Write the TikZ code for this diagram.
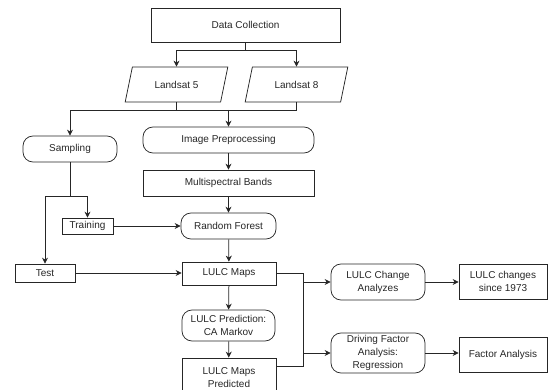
\documentclass[tikz,border=0pt]{standalone}
\usepackage{fontspec}
\setmainfont{Liberation Sans}
\usetikzlibrary{shapes, shapes.geometric, arrows.meta}

\begin{document}
\begin{tikzpicture}[x=1pt, y=-1pt,
  box/.style={draw=black!85, line width=0.75pt, align=center, inner sep=0pt, text=black!85, font=\fontsize{10}{13}\selectfont},
  rbox/.style={box, rounded corners=10pt},
  para/.style={box, trapezium, trapezium left angle=64, trapezium right angle=116, trapezium stretches=true},
  arr/.style={-{Stealth[length=6pt, width=6pt]}, draw=black!85, line width=0.75pt},
  ln/.style={draw=black!85, line width=0.75pt}]
\clip (0,0) rectangle (549,390);

\node[box, minimum width=189pt, minimum height=34pt] (DC) at (245.5, 25) {Data Collection};
\node[para, minimum width=103pt, minimum height=35pt] (L5) at (176.5, 84.5) {Landsat 5};
\node[para, minimum width=103pt, minimum height=35pt] (L8) at (296.5, 84.5) {Landsat 8};

\node[rbox, minimum width=94pt, minimum height=26pt] (Samp) at (70, 149) {Sampling};
\node[rbox, minimum width=171pt, minimum height=26pt] (Pre) at (228.5, 140) {Image Preprocessing};
\node[box, minimum width=171pt, minimum height=26pt] (Multi) at (228.5, 183) {Multispectral Bands};
\node[rbox, minimum width=95pt, minimum height=26pt] (RF) at (228.5, 226) {Random Forest};
\node[box, minimum width=51pt, minimum height=16pt] (Train) at (87.5, 226) {Training};
\node[box, minimum width=60pt, minimum height=18pt] (Test) at (45, 273) {Test};

\node[box, minimum width=94pt, minimum height=23pt] (Maps) at (229, 273.5) {LULC Maps};
\node[rbox, minimum width=93pt, minimum height=31pt] (Pred) at (228.5, 325.5) {LULC Prediction:\\CA Markov};
\node[box, minimum width=94pt, minimum height=40pt] (MapsP) at (229, 378) {LULC Maps\\Predicted};

\node[rbox, minimum width=94pt, minimum height=36pt] (Chg) at (378, 282) {LULC Change\\Analyzes};
\node[box, minimum width=88pt, minimum height=35pt] (Since) at (503, 281.5) {LULC changes\\since 1973};
\node[rbox, minimum width=94pt, minimum height=40pt] (Drv) at (378, 353) {Driving Factor\\Analysis:\\Regression};
\node[box, minimum width=88pt, minimum height=35pt] (Fact) at (503, 354.5) {Factor Analysis};

% data split
\coordinate (dcj) at (245.5, 50);
\draw[ln] (DC.south) -- (dcj);
\draw[arr] (dcj) -| (L5.north);
\draw[arr] (dcj) -| (L8.north);

% landsat join
\coordinate (lj) at (228.5, 110);
\draw[ln] (L5.south) -- (L5.south |- lj);
\draw[ln] (L8.south) -- (L8.south |- lj);
\draw[arr] (L8.south |- lj) -| (Samp.north);
\draw[arr] (lj) -- (Pre.north);

% sampling split
\coordinate (sj) at (70, 196);
\draw[ln] (Samp.south) -- (sj);
\draw[arr] (sj) -| (Train.north);
\draw[arr] (sj) -| (Test.north);

\draw[arr] (Pre) -- (Multi);
\draw[arr] (Multi) -- (RF);
\draw[arr] (RF) -- (Maps);
\draw[arr] (Maps) -- (Pred);
\draw[arr] (Pred) -- (MapsP);
\draw[arr] (Train) -- (RF);
\draw[arr] (Test.east) -- (Test.east -| Maps.west);

% analysis trunk
\coordinate (tb) at (303, 366);
\draw[ln] (Maps.east) -| (tb) -- (tb -| MapsP.east);
\draw[arr] (tb |- Chg.west) -- (Chg.west);
\draw[arr] (tb |- Drv.west) -- (Drv.west);
\draw[arr] (Chg.east) -- (Chg.east -| Since.west);
\draw[arr] (Drv.east) -- (Drv.east -| Fact.west);

\end{tikzpicture}
\end{document}
